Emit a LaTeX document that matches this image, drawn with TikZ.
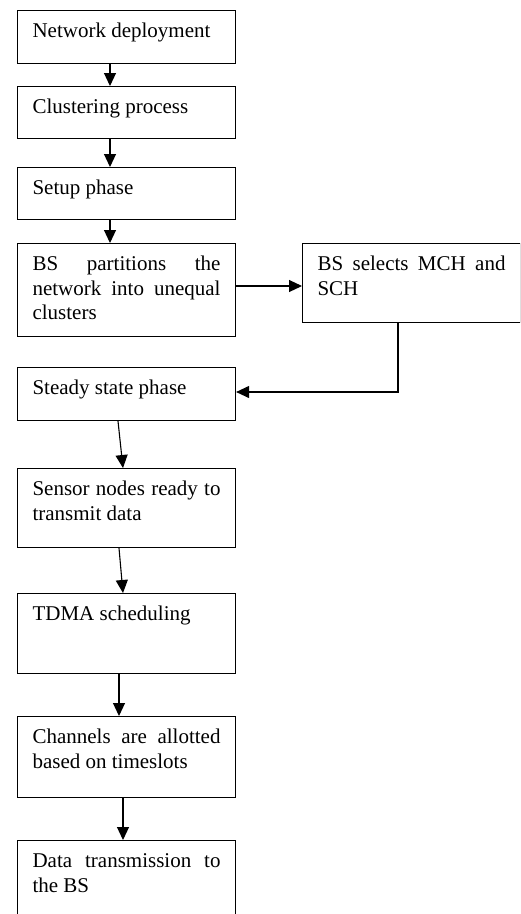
\documentclass[tikz,border=0pt]{standalone}
\usepackage{fontspec}
\setmainfont{Liberation Serif}
\usetikzlibrary{arrows.meta,calc}
\hyphenpenalty=10000
\exhyphenpenalty=10000
\tolerance=9999
\newcommand\boxtext[2]{\parbox[t][#1][t]{188pt}{\rule{0pt}{27pt}\ignorespaces #2}}
\tikzset{
  flowbox/.style={draw=black, line width=1.1pt, anchor=north west, inner xsep=15pt, inner ysep=0pt,
    font=\fontsize{21pt}{24.7pt}\selectfont},
  flowarrow/.style={line width=1.1pt, -{Triangle[length=13pt,width=12pt]}}
}
\begin{document}
\begin{tikzpicture}[x=1pt,y=-1pt]
\useasboundingbox (0,0) rectangle (520,914);
\clip (0,0) rectangle (520,914);
\node[flowbox] (b1) at (17,10) {\boxtext{53pt}{Network deployment}};
\node[flowbox] (b2) at (17,86) {\boxtext{52pt}{Clustering process}};
\node[flowbox] (b3) at (17,167) {\boxtext{52pt}{Setup phase}};
\node[flowbox] (b4) at (17,243) {\boxtext{93pt}{BS partitions the network into unequal clusters}};
\node[flowbox] (b5) at (302,243) {\boxtext{79pt}{BS selects MCH and SCH}};
\node[flowbox] (b6) at (17,367) {\boxtext{53pt}{Steady state phase}};
\node[flowbox] (b7) at (17,468) {\boxtext{79pt}{Sensor nodes ready to transmit data}};
\node[flowbox] (b8) at (17,593) {\boxtext{80pt}{TDMA scheduling}};
\node[flowbox] (b9) at (17,716) {\boxtext{81pt}{Channels are allotted based on timeslots}};
\node[flowbox] (b10) at (17,840) {\boxtext{100pt}{Data transmission to the BS}};
\draw[flowarrow] ($(b1.south west)+(93,0)$) -- ($(b2.north west)+(93,0)$);
\draw[flowarrow] ($(b2.south west)+(93,0)$) -- ($(b3.north west)+(93,0)$);
\draw[flowarrow] ($(b3.south west)+(93,0)$) -- ($(b4.north west)+(93,0)$);
\draw[flowarrow] ($(b4.north east)+(0,43)$) -- ($(b5.north west)+(0,43)$);
\draw[flowarrow] ($(b5.south west)+(96,0)$) |- ($(b6.north east)+(0,25)$);
\draw[flowarrow] ($(b6.south west)+(101,0)$) -- ($(b7.north west)+(106,0)$);
\draw[flowarrow] ($(b7.south west)+(102,0)$) -- ($(b8.north west)+(106,0)$);
\draw[flowarrow] ($(b8.south west)+(102,0)$) -- ($(b9.north west)+(102,0)$);
\draw[flowarrow] ($(b9.south west)+(106,0)$) -- ($(b10.north west)+(106,0)$);
\end{tikzpicture}
\end{document}
